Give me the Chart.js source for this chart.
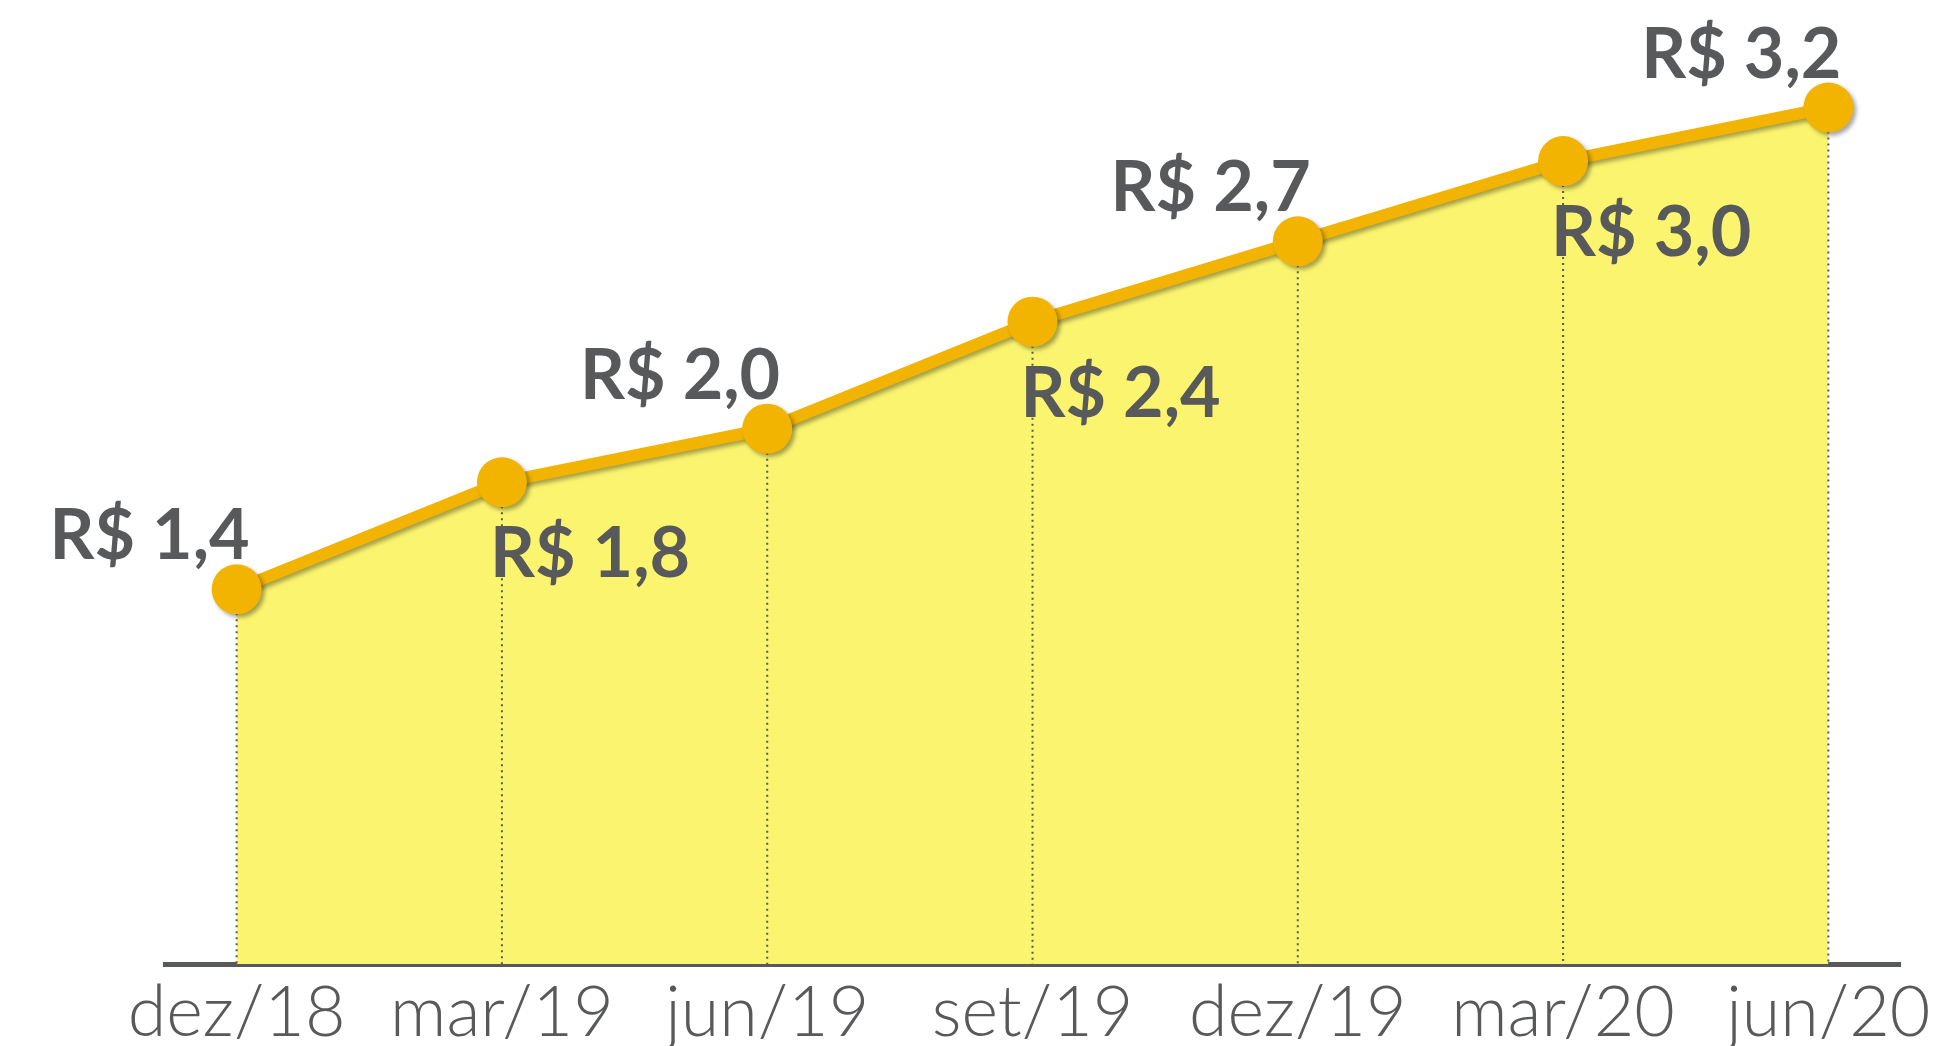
<!DOCTYPE html>
<html lang="pt-BR">
<head>
  <meta charset="UTF-8" />
  <title>Evolução R$</title>
  <script src="https://cdn.jsdelivr.net/npm/chart.js"></script>
  <style>
    html, body { margin: 0; padding: 0; background: #fff; }
    #caixa { width: 1947px; height: 1046px; position: relative; }
  </style>
</head>
<body>
  <div id="caixa"><canvas id="grafico"></canvas></div>

  <script>
    const periodos = ['dez/18', 'mar/19', 'jun/19', 'set/19', 'dez/19', 'mar/20', 'jun/20'];
    const valores = [1.4, 1.8, 2.0, 2.4, 2.7, 3.0, 3.2];

    const cinza = '#58595b';
    const laranja = '#f2b400';
    const amarelo = '#fbf46e';

    const pontos = valores.map((v, i) => ({ x: i, y: v }));

    function formatar(v) {
      return 'R$ ' + v.toFixed(1).replace('.', ',');
    }

    // linhas pontilhadas do ponto até o eixo
    const linhasVerticais = {
      id: 'linhasVerticais',
      beforeDatasetDraw(chart, args) {
        if (args.index !== 1) return;
        const ctx = chart.ctx;
        const base = chart.scales.y.getPixelForValue(0);
        ctx.save();
        ctx.strokeStyle = cinza;
        ctx.lineWidth = 2;
        ctx.setLineDash([2, 4]);
        args.meta.data.forEach(p => {
          ctx.beginPath();
          ctx.moveTo(p.x, p.y);
          ctx.lineTo(p.x, base);
          ctx.stroke();
        });
        ctx.restore();
        // sombra da linha e das bolinhas
        ctx.save();
        ctx.shadowColor = 'rgba(0,0,0,0.35)';
        ctx.shadowOffsetX = 3;
        ctx.shadowOffsetY = 3;
        ctx.shadowBlur = 4;
      },
      afterDatasetDraw(chart, args) {
        if (args.index !== 1) return;
        chart.ctx.restore();
      }
    };

    const rotulos = {
      id: 'rotulos',
      afterDatasetsDraw(chart) {
        const ctx = chart.ctx;
        const meta = chart.getDatasetMeta(1);
        ctx.save();
        ctx.fillStyle = cinza;
        ctx.font = 'bold 70px Lato';
        ctx.textBaseline = 'alphabetic';
        meta.data.forEach((p, i) => {
          if (i % 2 === 0) {
            ctx.textAlign = 'right';
            ctx.fillText(formatar(valores[i]), p.x + 13, p.y - 30);
          } else {
            ctx.textAlign = 'left';
            ctx.fillText(formatar(valores[i]), p.x - 12, p.y + 95);
          }
        });
        ctx.restore();
      }
    };

    new Chart(document.getElementById('grafico'), {
      type: 'line',
      data: {
        datasets: [
          {
            data: pontos,
            fill: 'origin',
            backgroundColor: amarelo,
            borderWidth: 0,
            pointRadius: 0,
            order: 2
          },
          {
            data: pontos,
            fill: false,
            borderColor: laranja,
            borderWidth: 12,
            pointRadius: 25,
            pointBackgroundColor: laranja,
            pointBorderWidth: 0,
            order: 1
          }
        ]
      },
      options: {
        responsive: true,
        maintainAspectRatio: false,
        animation: false,
        layout: { padding: { left: 165, right: 47, top: 54, bottom: -16 } },
        plugins: {
          legend: { display: false },
          tooltip: { enabled: false }
        },
        scales: {
          x: {
            type: 'linear',
            min: -0.27,
            max: 6.27,
            afterBuildTicks: scale => {
              scale.ticks = periodos.map((_, i) => ({ value: i }));
            },
            grid: { display: false, drawTicks: false },
            border: { display: true, color: cinza, width: 5 },
            ticks: {
              padding: 14,
              color: cinza,
              font: { family: 'Lato', size: 70, weight: '300', lineHeight: 1.0 },
              maxRotation: 0,
              autoSkip: false,
              callback: v => periodos[v]
            }
          },
          y: {
            display: false,
            min: 0,
            max: 3.4
          }
        }
      },
      plugins: [linhasVerticais, rotulos]
    });
  </script>
</body>
</html>
